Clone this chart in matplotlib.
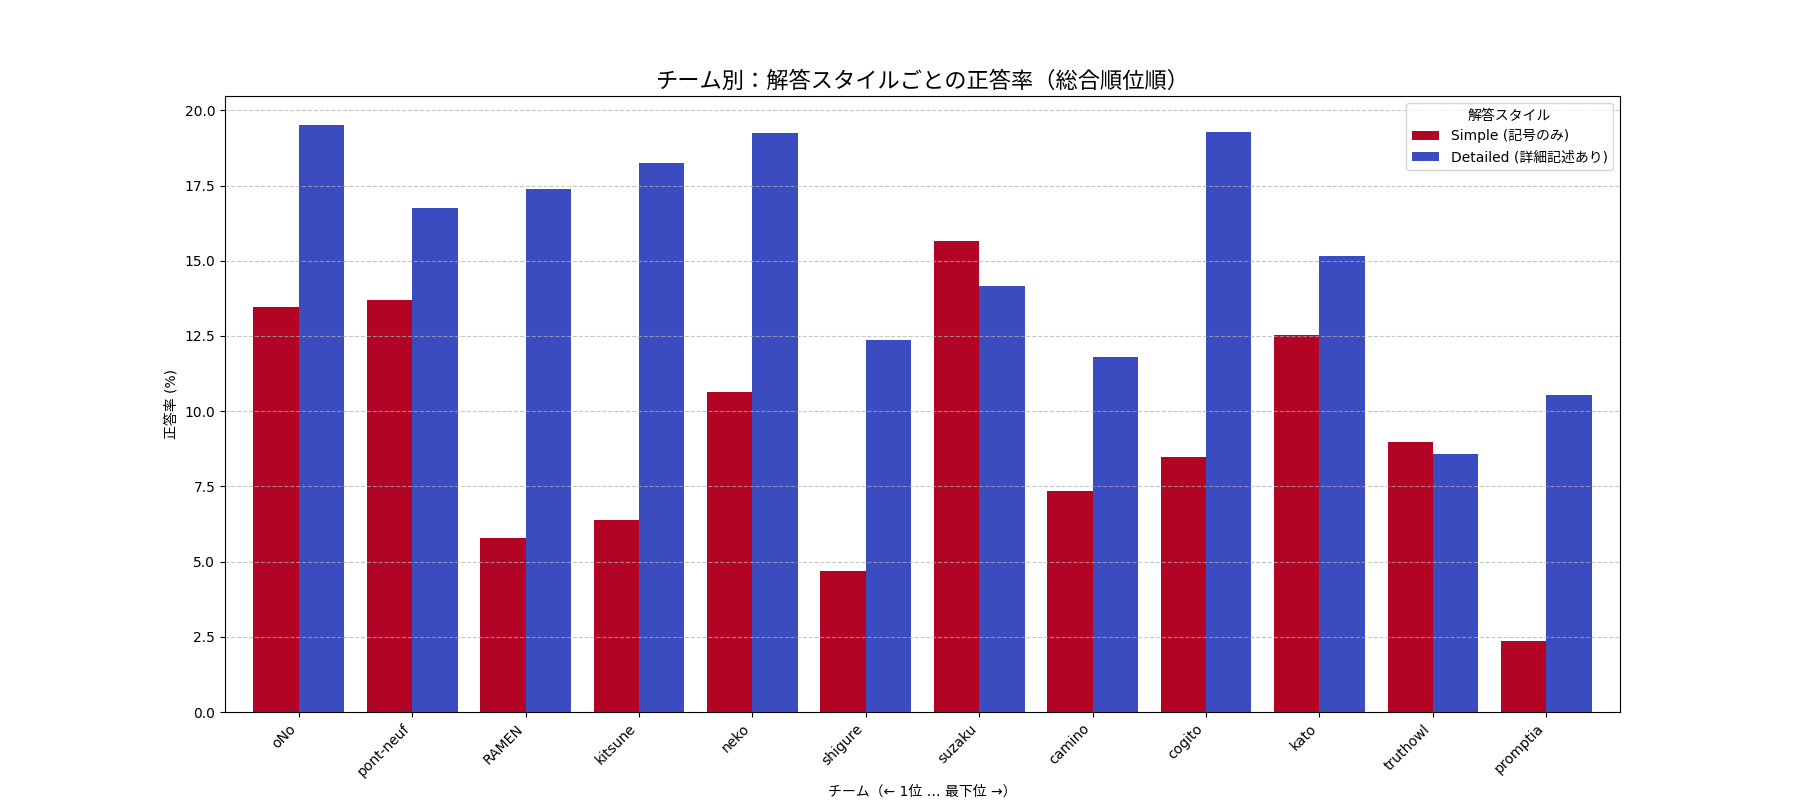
import matplotlib
matplotlib.use("Agg")
import matplotlib.pyplot as plt
import numpy as np

plt.rcParams['font.family'] = ['DejaVu Sans', 'Noto Sans CJK JP']

teams = ["oNo", "pont-neuf", "RAMEN", "kitsune", "neko", "shigure", "suzaku",
         "camino", "cogito", "kato", "truthowl", "promptia"]
simple = [13.47, 13.70, 5.80, 6.37, 10.65, 4.69, 15.65, 7.33, 8.47, 12.52, 8.97, 2.37]
detailed = [19.50, 16.76, 17.37, 18.24, 19.24, 12.37, 14.16, 11.79, 19.27, 15.15, 8.59, 10.53]

label_simple = "Simple (記号のみ)"
label_detailed = "Detailed (詳細記述あり)"

fig, ax = plt.subplots(figsize=(18, 8), dpi=100)
x = np.arange(len(teams))
w = 0.4
ax.bar(x - w / 2, simple, w, color="#b40426", label=label_simple)
ax.bar(x + w / 2, detailed, w, color="#3b4cc0", label=label_detailed)

ax.set_xlim(-0.65, len(teams) - 1 + 0.65)
ax.set_xticks(x)
ax.set_xticklabels(teams, rotation=45, ha="right")
ax.set_ylabel("正答率 (%)")
ax.set_xlabel("チーム（← 1位 … 最下位 →）")
ax.set_title("チーム別：解答スタイルごとの正答率（総合順位順）", fontsize=16)
ax.grid(axis="y", linestyle="--", alpha=0.7)
ax.legend(title="解答スタイル", loc="upper right")

fig.savefig("out.png")
